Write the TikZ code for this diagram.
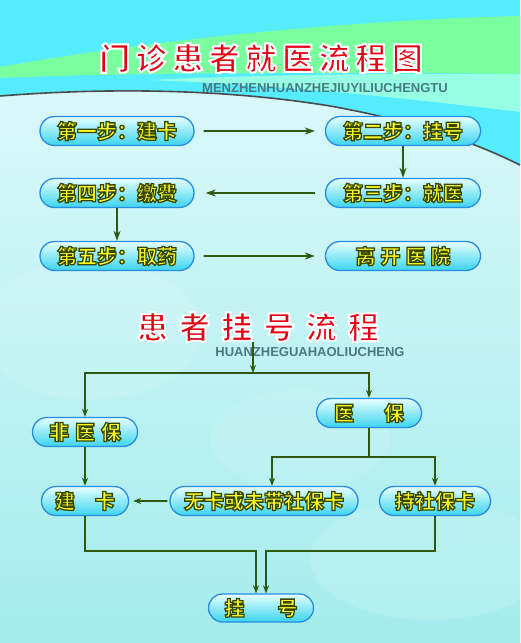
\documentclass[tikz,border=0pt]{standalone}
\usepackage{fontspec}
\setmainfont{Liberation Sans}
\newfontfamily\cjkbold{Noto Sans CJK SC Bold}
\newfontfamily\cjkheavy{Noto Sans CJK SC Black}
\usetikzlibrary{positioning,arrows.meta,shapes.misc}
\definecolor{BgCyan}{RGB}{85,236,255}
\definecolor{BgGreen}{RGB}{122,255,158}
\definecolor{BgMint}{RGB}{150,255,228}
\definecolor{BgLight}{RGB}{226,250,252}
\definecolor{BgAqua}{RGB}{165,236,236}
\definecolor{BoxTop}{RGB}{230,255,255}
\definecolor{BoxBot}{RGB}{58,212,238}
\definecolor{BoxLine}{RGB}{40,140,225}
\definecolor{TxtYellow}{RGB}{255,255,40}
\definecolor{TitleRed}{RGB}{228,0,18}
\definecolor{SubGray}{RGB}{72,122,128}
\definecolor{FlowGreen}{RGB}{45,90,15}

% outlined text (fill + stroke)
\newcommand\ylw[1]{\special{pdf:literal direct 2 Tr 1.3 w 0.22 0.28 0 RG}#1\special{pdf:literal direct 0 Tr}}
\newcommand\wht[1]{\special{pdf:literal direct 2 Tr 2 w 1 1 1 RG}#1\special{pdf:literal direct 0 Tr}}

\begin{document}
\begin{tikzpicture}[x=1pt,y=-1pt,
    stepbox/.style={rounded rectangle,draw=BoxLine,line width=1.3pt,top color=BoxTop,bottom color=BoxBot,
      minimum height=29pt,inner sep=0pt,text=TxtYellow,font=\cjkheavy\fontsize{20}{20}\selectfont},
    bigtitle/.style={text=TitleRed,inner sep=0pt,font=\cjkheavy\fontsize{31}{31}\selectfont},
    subtitle/.style={text=SubGray,inner sep=0pt,font=\bfseries\fontsize{13}{13}\selectfont},
    flow/.style={draw=FlowGreen,line width=1.8pt,-{Stealth[length=10pt,width=7pt]}},
    branch/.style={draw=FlowGreen,line width=1.7pt,-{Stealth[length=8pt,width=6pt]}}
]
% background
\useasboundingbox (0,0) rectangle (520,643);
\shade[top color=BgLight,bottom color=BgAqua] (0,0) rectangle (520,643);
\fill[white,opacity=0.12] (90,330) ellipse (110 and 70);
\fill[white,opacity=0.12] (430,560) ellipse (120 and 60);
\fill[white,opacity=0.1] (300,440) ellipse (90 and 50);
\fill[BgCyan] (0,0) -- (520,0) -- (520,165) .. controls (480,145) and (420,122) .. (330,106)
  .. controls (220,88) and (100,88) .. (0,96) -- cycle;
\fill[BgGreen] (0,67) .. controls (150,40) and (350,20) .. (520,16) -- (520,74)
  .. controls (350,72) and (150,72) .. (0,78) -- cycle;
\fill[BgMint] (150,80) .. controls (300,73) and (420,74) .. (520,74) -- (520,112)
  .. controls (420,100) and (300,86) .. (150,80) -- cycle;
\draw[line width=1.6pt,black!70] (0,96) .. controls (100,88) and (220,88) .. (330,106)
  .. controls (420,122) and (480,145) .. (520,165);

% titles
\node[bigtitle] (title1) at (261,58) {\addfontfeatures{LetterSpace=18}\wht{门诊患者就医流程图}};
\node[subtitle] (sub1) at (325,88) {MENZHENHUANZHEJIUYILIUCHENGTU};

% outpatient steps
\node[stepbox,minimum width=154pt] (step1) at (117,131) {\ylw{第一步：建卡}};
\node[stepbox,minimum width=155pt] (step2) at (403,131) {\ylw{第二步：挂号}};
\node[stepbox,minimum width=155pt] (step3) at (403,193) {\ylw{第三步：就医}};
\node[stepbox,minimum width=154pt] (step4) at (117,193) {\ylw{第四步：缴费}};
\node[stepbox,minimum width=154pt] (step5) at (117,256) {\ylw{第五步：取药}};
\node[stepbox,minimum width=155pt] (leave) at (403,256) {\addfontfeatures{LetterSpace=25}\ylw{离开医院}};

\draw[flow,shorten <=9pt,shorten >=10pt] (step1) -- (step2);
\draw[flow] (step2) -- (step3);
\draw[flow,shorten <=10pt,shorten >=11pt] (step3) -- (step4);
\draw[flow] (step4) -- (step5);
\draw[flow,shorten <=9pt,shorten >=10pt] (step5) -- (leave);

% registration
\node[bigtitle] (title2) at (258,327) {\addfontfeatures{LetterSpace=36}\wht{患者挂号流程}};
\node[subtitle] (sub2) at (310,352) {HUANZHEGUAHAOLIUCHENG};

\node[stepbox,minimum width=105pt] (nonins) at (85,432) {\addfontfeatures{LetterSpace=30}\ylw{非医保}};
\node[stepbox,minimum width=105pt] (ins) at (369,413) {\ylw{医\hspace{30pt}保}};
\node[stepbox,minimum width=87pt] (card) at (85,501) {\ylw{建\hspace{20pt}卡}};
\node[stepbox,minimum width=188pt] (nocard) at (264,501) {\ylw{无卡或未带社保卡}};
\node[stepbox,minimum width=111pt] (hascard) at (435,501) {\ylw{持社保卡}};
\node[stepbox,minimum width=105pt,minimum height=28pt] (reg) at (261,608) {\ylw{挂\hspace{33pt}号}};

\coordinate (fork) at (253,373);
\coordinate (insfork) at (369,457);
\coordinate (joinL) at (256,551);
\coordinate (joinR) at (266,551);

\draw[branch] (title2.south -| fork) -- (fork);
\draw[branch] (fork) -| (nonins.north);
\draw[branch] (fork) -| (ins.north);
\draw[branch] (nonins) -- (card);
\draw[draw=FlowGreen,line width=1.7pt] (ins) -- (insfork);
\draw[branch] (insfork) -| ([xshift=8pt]nocard.north);
\draw[branch] (insfork) -| (hascard.north);
\draw[branch,shorten <=2pt,shorten >=4pt] (nocard) -- (card);
\draw[branch] (card.south) |- (joinL) -- (joinL |- reg.north);
\draw[branch] (hascard.south) |- (joinR) -- (joinR |- reg.north);
\end{tikzpicture}
\end{document}
